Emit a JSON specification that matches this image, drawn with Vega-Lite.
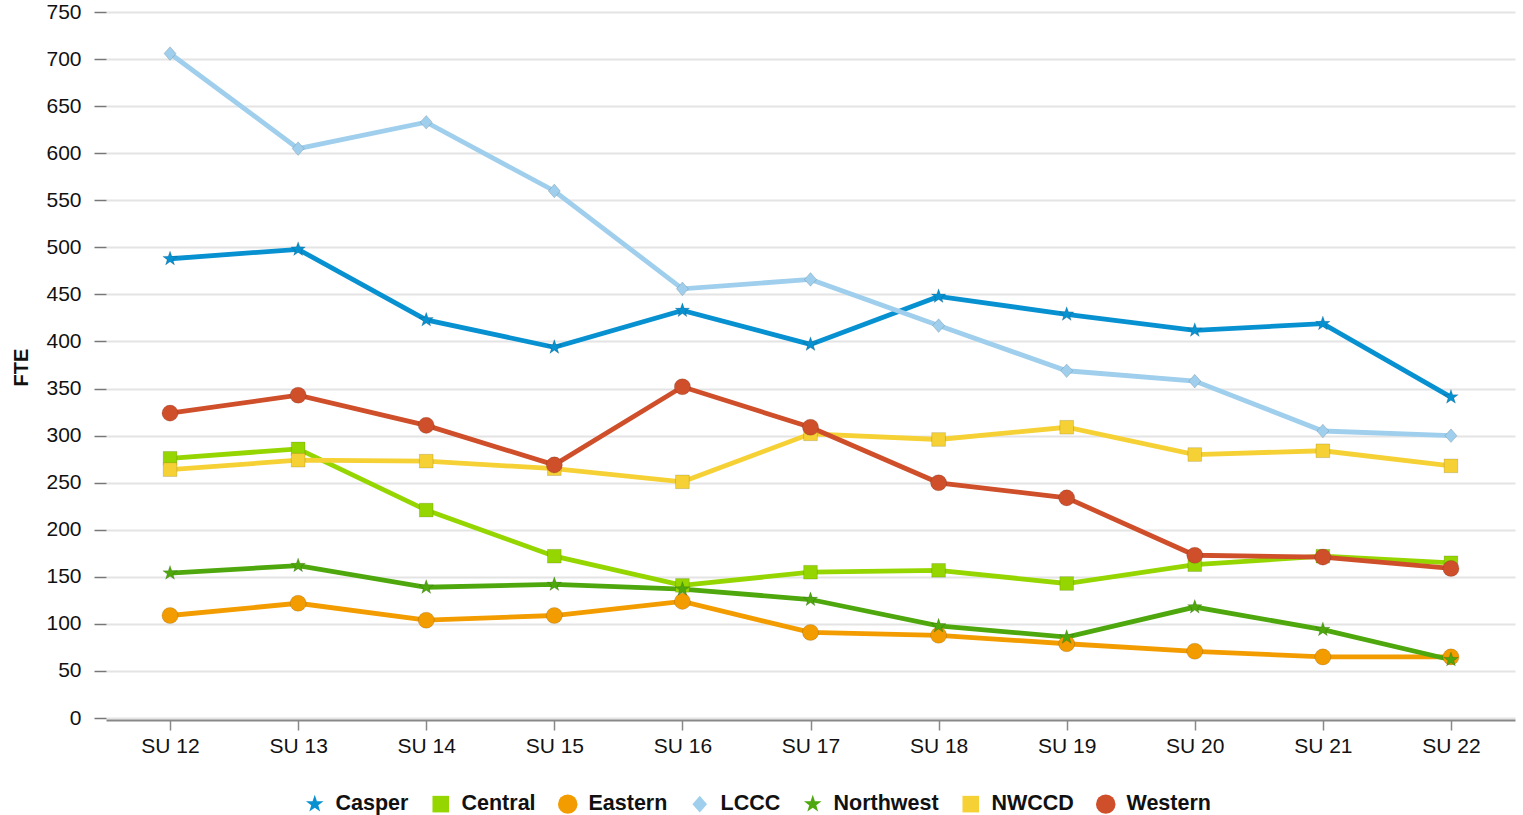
{
  "$schema": "https://vega.github.io/schema/vega-lite/v6.json",
  "width": 1409,
  "height": 706,
  "autosize": {"type": "none"},
  "padding": {"left": 106, "top": 14, "right": 8, "bottom": 95},
  "background": "white",
  "config": {
    "font": "Liberation Sans",
    "view": {"stroke": null}
  },
  "data": {
    "values": [
      {"term": "SU 12", "campus": "Casper", "fte": 490},
      {"term": "SU 13", "campus": "Casper", "fte": 500},
      {"term": "SU 14", "campus": "Casper", "fte": 425},
      {"term": "SU 15", "campus": "Casper", "fte": 396},
      {"term": "SU 16", "campus": "Casper", "fte": 435},
      {"term": "SU 17", "campus": "Casper", "fte": 399},
      {"term": "SU 18", "campus": "Casper", "fte": 450},
      {"term": "SU 19", "campus": "Casper", "fte": 431},
      {"term": "SU 20", "campus": "Casper", "fte": 414},
      {"term": "SU 21", "campus": "Casper", "fte": 421},
      {"term": "SU 22", "campus": "Casper", "fte": 343},
      {"term": "SU 12", "campus": "Central", "fte": 278},
      {"term": "SU 13", "campus": "Central", "fte": 288},
      {"term": "SU 14", "campus": "Central", "fte": 223},
      {"term": "SU 15", "campus": "Central", "fte": 174},
      {"term": "SU 16", "campus": "Central", "fte": 143},
      {"term": "SU 17", "campus": "Central", "fte": 157},
      {"term": "SU 18", "campus": "Central", "fte": 159},
      {"term": "SU 19", "campus": "Central", "fte": 145},
      {"term": "SU 20", "campus": "Central", "fte": 165},
      {"term": "SU 21", "campus": "Central", "fte": 174},
      {"term": "SU 22", "campus": "Central", "fte": 167},
      {"term": "SU 12", "campus": "Eastern", "fte": 111},
      {"term": "SU 13", "campus": "Eastern", "fte": 124},
      {"term": "SU 14", "campus": "Eastern", "fte": 106},
      {"term": "SU 15", "campus": "Eastern", "fte": 111},
      {"term": "SU 16", "campus": "Eastern", "fte": 126},
      {"term": "SU 17", "campus": "Eastern", "fte": 93},
      {"term": "SU 18", "campus": "Eastern", "fte": 90},
      {"term": "SU 19", "campus": "Eastern", "fte": 81},
      {"term": "SU 20", "campus": "Eastern", "fte": 73},
      {"term": "SU 21", "campus": "Eastern", "fte": 67},
      {"term": "SU 22", "campus": "Eastern", "fte": 67},
      {"term": "SU 12", "campus": "LCCC", "fte": 708},
      {"term": "SU 13", "campus": "LCCC", "fte": 607},
      {"term": "SU 14", "campus": "LCCC", "fte": 635},
      {"term": "SU 15", "campus": "LCCC", "fte": 562},
      {"term": "SU 16", "campus": "LCCC", "fte": 458},
      {"term": "SU 17", "campus": "LCCC", "fte": 468},
      {"term": "SU 18", "campus": "LCCC", "fte": 419},
      {"term": "SU 19", "campus": "LCCC", "fte": 371},
      {"term": "SU 20", "campus": "LCCC", "fte": 360},
      {"term": "SU 21", "campus": "LCCC", "fte": 307},
      {"term": "SU 22", "campus": "LCCC", "fte": 302},
      {"term": "SU 12", "campus": "Northwest", "fte": 156},
      {"term": "SU 13", "campus": "Northwest", "fte": 164},
      {"term": "SU 14", "campus": "Northwest", "fte": 141},
      {"term": "SU 15", "campus": "Northwest", "fte": 144},
      {"term": "SU 16", "campus": "Northwest", "fte": 139},
      {"term": "SU 17", "campus": "Northwest", "fte": 128},
      {"term": "SU 18", "campus": "Northwest", "fte": 100},
      {"term": "SU 19", "campus": "Northwest", "fte": 88},
      {"term": "SU 20", "campus": "Northwest", "fte": 120},
      {"term": "SU 21", "campus": "Northwest", "fte": 96},
      {"term": "SU 22", "campus": "Northwest", "fte": 64},
      {"term": "SU 12", "campus": "NWCCD", "fte": 266},
      {"term": "SU 13", "campus": "NWCCD", "fte": 276},
      {"term": "SU 14", "campus": "NWCCD", "fte": 275},
      {"term": "SU 15", "campus": "NWCCD", "fte": 267},
      {"term": "SU 16", "campus": "NWCCD", "fte": 253},
      {"term": "SU 17", "campus": "NWCCD", "fte": 304},
      {"term": "SU 18", "campus": "NWCCD", "fte": 298},
      {"term": "SU 19", "campus": "NWCCD", "fte": 311},
      {"term": "SU 20", "campus": "NWCCD", "fte": 282},
      {"term": "SU 21", "campus": "NWCCD", "fte": 286},
      {"term": "SU 22", "campus": "NWCCD", "fte": 270},
      {"term": "SU 12", "campus": "Western", "fte": 326},
      {"term": "SU 13", "campus": "Western", "fte": 345},
      {"term": "SU 14", "campus": "Western", "fte": 313},
      {"term": "SU 15", "campus": "Western", "fte": 271},
      {"term": "SU 16", "campus": "Western", "fte": 354},
      {"term": "SU 17", "campus": "Western", "fte": 311},
      {"term": "SU 18", "campus": "Western", "fte": 252},
      {"term": "SU 19", "campus": "Western", "fte": 236},
      {"term": "SU 20", "campus": "Western", "fte": 175},
      {"term": "SU 21", "campus": "Western", "fte": 173},
      {"term": "SU 22", "campus": "Western", "fte": 161}
    ]
  },
  "encoding": {
    "x": {
      "field": "term",
      "type": "ordinal",
      "scale": {"type": "point", "padding": 0.5},
      "axis": {
        "title": null,
        "labelAngle": 0,
        "labelFontSize": 21,
        "labelColor": "#111",
        "labelPadding": 5,
        "tickSize": 10,
        "tickColor": "#888",
        "domainColor": "#888",
        "domainWidth": 2,
        "tickWidth": 1.5,
        "grid": false
      }
    },
    "y": {
      "field": "fte",
      "type": "quantitative",
      "scale": {"domain": [0, 750], "nice": false},
      "axis": {
        "title": "FTE",
        "titleFontSize": 20,
        "titleFontWeight": "bold",
        "titleColor": "#111",
        "titlePadding": 14,
        "values": [0, 50, 100, 150, 200, 250, 300, 350, 400, 450, 500, 550, 600, 650, 700, 750],
        "labelFontSize": 21,
        "labelColor": "#111",
        "labelPadding": 13,
        "tickSize": 12,
        "tickColor": "#777",
        "tickWidth": 1.5,
        "tickOffset": -2,
        "domain": false,
        "grid": true,
        "gridColor": "#e4e4e4",
        "gridWidth": 2
      }
    },
    "color": {
      "field": "campus",
      "type": "nominal",
      "scale": {
        "domain": ["Casper", "Central", "Eastern", "LCCC", "Northwest", "NWCCD", "Western"],
        "range": ["#0891d1", "#95d600", "#f39c00", "#9fcfec", "#4ea80d", "#f6d135", "#cf4f2b"]
      },
      "legend": {
        "title": null,
        "orient": "none",
        "legendX": 198,
        "legendY": 779,
        "direction": "horizontal",
        "labelFontSize": 21.5,
        "labelFontWeight": "bold",
        "labelColor": "#111",
        "symbolSize": 380,
        "symbolStrokeWidth": 0,
        "columnPadding": 21,
        "labelOffset": 10
      }
    }
  },
  "layer": [
    {
      "mark": {"type": "line", "strokeWidth": 4.8},
      "encoding": {"detail": {"field": "campus"}}
    },
    {
      "mark": {"type": "point", "filled": true, "opacity": 1, "size": 260, "stroke": "#00000022", "strokeWidth": 1},
      "encoding": {
        "shape": {
          "field": "campus",
          "type": "nominal",
          "scale": {
            "domain": ["Casper", "Central", "Eastern", "LCCC", "Northwest", "NWCCD", "Western"],
            "range": [
              "M0,-0.95L0.222,-0.306L0.9,-0.292L0.36,0.117L0.556,0.765L0,0.378L-0.556,0.765L-0.36,0.117L-0.9,-0.292L-0.222,-0.306Z",
              "M-0.85,-0.85L0.85,-0.85L0.85,0.85L-0.85,0.85Z",
              "circle",
              "M0,-0.85L0.75,0L0,0.85L-0.75,0Z",
              "M0,-0.95L0.222,-0.306L0.9,-0.292L0.36,0.117L0.556,0.765L0,0.378L-0.556,0.765L-0.36,0.117L-0.9,-0.292L-0.222,-0.306Z",
              "M-0.85,-0.85L0.85,-0.85L0.85,0.85L-0.85,0.85Z",
              "circle"
            ]
          }
        }
      }
    }
  ]
}
